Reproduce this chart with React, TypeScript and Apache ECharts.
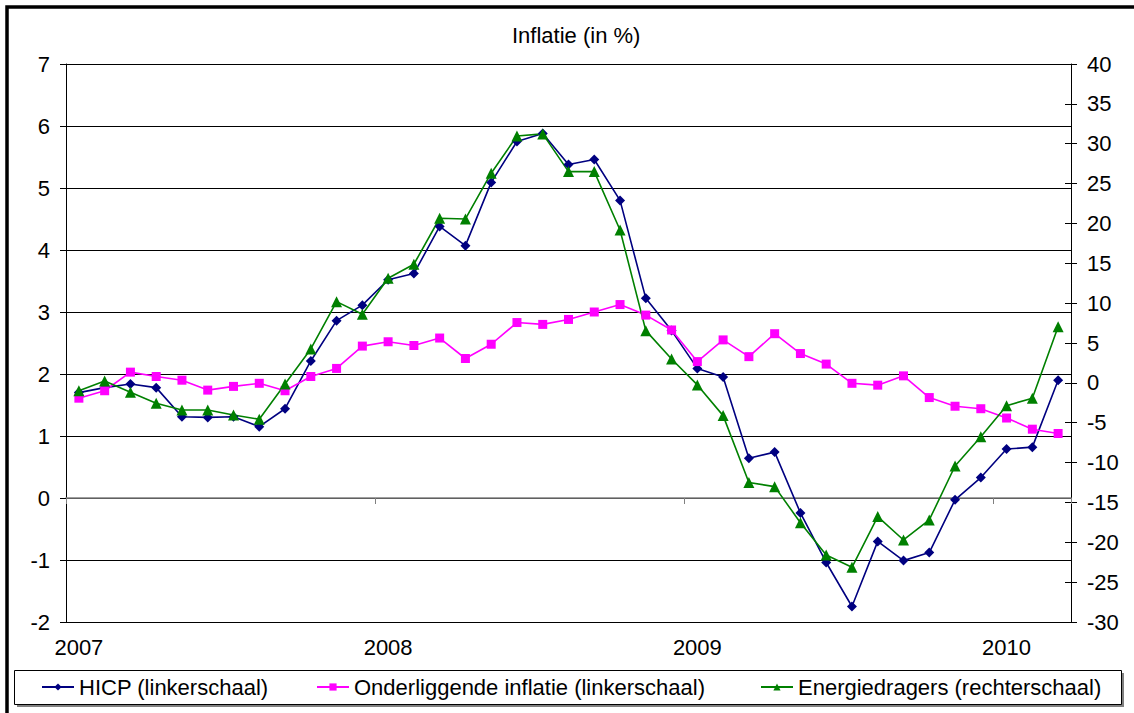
import React, { useEffect, useRef } from "react";
import * as echarts from "echarts";

const months = [
  "2007-01", "2007-02", "2007-03", "2007-04", "2007-05", "2007-06", "2007-07", "2007-08", "2007-09", "2007-10", "2007-11", "2007-12",
  "2008-01", "2008-02", "2008-03", "2008-04", "2008-05", "2008-06", "2008-07", "2008-08", "2008-09", "2008-10", "2008-11", "2008-12",
  "2009-01", "2009-02", "2009-03", "2009-04", "2009-05", "2009-06", "2009-07", "2009-08", "2009-09", "2009-10", "2009-11", "2009-12",
  "2010-01", "2010-02", "2010-03",
];

const hicp = [
  1.70, 1.78, 1.84, 1.78, 1.31, 1.30, 1.31, 1.15, 1.44, 2.21, 2.86, 3.11,
  3.52, 3.62, 4.38, 4.07, 5.09, 5.75, 5.88, 5.38, 5.46, 4.80, 3.22, 2.70,
  2.09, 1.95, 0.64, 0.74, -0.24, -1.04, -1.75, -0.70, -1.01, -0.88, -0.03, 0.33,
  0.79, 0.82, 1.90,
];

const core = [
  1.61, 1.73, 2.03, 1.96, 1.90, 1.74, 1.80, 1.85, 1.73, 1.96, 2.09, 2.45,
  2.52, 2.46, 2.58, 2.25, 2.48, 2.83, 2.80, 2.88, 3.00, 3.12, 2.95, 2.71,
  2.20, 2.55, 2.28, 2.65, 2.33, 2.16, 1.85, 1.82, 1.97, 1.62, 1.48, 1.44,
  1.29, 1.11, 1.04,
];

const energy = [
  -0.98, 0.24, -1.18, -2.56, -3.40, -3.40, -4.03, -4.57, -0.14, 4.25, 10.19, 8.6,
  13.12, 14.88, 20.65, 20.56, 26.3, 30.97, 31.23, 26.5, 26.5, 19.18, 6.55, 3.0,
  -0.26, -4.11, -12.5, -13.02, -17.54, -21.59, -23.14, -16.78, -19.71, -17.2, -10.43, -6.75,
  -2.86, -1.93, 7.05,
];

const seriesNames = [
  "HICP (linkerschaal)",
  "Onderliggende inflatie (linkerschaal)",
  "Energiedragers (rechterschaal)",
];

const title = "Inflatie (in %)";

const FONT = "'Liberation Sans', Arial, sans-serif";

export default function App() {
  const ref = useRef<HTMLDivElement>(null);

  useEffect(() => {
    if (!ref.current) return;
    const chart = echarts.init(ref.current, undefined, { renderer: "svg" });

    const legendBase = {
      top: 676,
      padding: 0,
      itemWidth: 32,
      itemHeight: 9,
      itemGap: 0,
      selectedMode: false,
      textStyle: { fontSize: 22, color: "#000", fontFamily: FONT },
    };

    chart.setOption({
      animation: false,
      backgroundColor: "#fff",
      textStyle: { fontFamily: FONT },
      title: {
        text: title,
        left: 507,
        top: 19,
        textStyle: { fontSize: 22, fontWeight: "normal", color: "#000", fontFamily: FONT },
      },
      graphic: [
        {
          type: "rect",
          z: 0,
          shape: { x: 7, y: 7, width: 1300, height: 900 },
          style: { fill: "none", stroke: "#000", lineWidth: 3.5 },
          silent: true,
        },
        {
          type: "rect",
          z: 1,
          shape: { x: 17, y: 673, width: 1107, height: 34 },
          style: { fill: "#808080", stroke: "none" },
          silent: true,
        },
        {
          type: "rect",
          z: 2,
          shape: { x: 14.5, y: 670.5, width: 1107, height: 34 },
          style: { fill: "#fff", stroke: "#000", lineWidth: 1 },
          silent: true,
        },
      ],
      legend: [
        { ...legendBase, left: 41, data: [seriesNames[0]] },
        { ...legendBase, left: 316, data: [seriesNames[1]] },
        { ...legendBase, left: 760, data: [seriesNames[2]] },
      ],
      grid: { left: 66, top: 64, width: 1005, height: 558, containLabel: false },
      xAxis: [
        {
          type: "category",
          data: months,
          boundaryGap: true,
          position: "bottom",
          axisLine: { show: true, onZero: true, onZeroAxisIndex: 0, lineStyle: { color: "#808080", width: 1.5 } },
          axisTick: { show: true, interval: 11, length: 6, inside: false, lineStyle: { color: "#808080", width: 1 } },
          axisLabel: { show: false },
          splitLine: { show: false },
        },
        {
          type: "category",
          data: months,
          boundaryGap: true,
          position: "bottom",
          axisLine: { show: false, onZero: false },
          axisTick: { show: false },
          axisLabel: {
            show: true,
            interval: 11,
            margin: 14,
            fontSize: 22,
            color: "#000",
            fontFamily: FONT,
            formatter: (v: string) => v.slice(0, 4),
          },
          splitLine: { show: false },
        },
      ],
      yAxis: [
        {
          type: "value",
          position: "left",
          min: -2,
          max: 7,
          interval: 1,
          axisLine: { show: true, lineStyle: { color: "#000", width: 1 } },
          axisTick: { show: true, inside: false, length: 6, lineStyle: { color: "#000" } },
          axisLabel: { fontSize: 22, color: "#000", margin: 16, fontFamily: FONT },
          splitLine: { show: true, lineStyle: { color: "#000", width: 1 } },
        },
        {
          type: "value",
          position: "right",
          min: -30,
          max: 40,
          interval: 5,
          axisLine: { show: true, lineStyle: { color: "#000", width: 1 } },
          axisTick: { show: true, inside: false, length: 6, lineStyle: { color: "#000" } },
          axisLabel: { fontSize: 22, color: "#000", margin: 16, fontFamily: FONT },
          splitLine: { show: false },
        },
        {
          type: "value",
          position: "right",
          min: -30,
          max: 40,
          interval: 5,
          axisLine: { show: false },
          axisTick: { show: true, inside: true, length: 6, lineStyle: { color: "#000" } },
          axisLabel: { show: false },
          splitLine: { show: false },
        },
      ],
      series: [
        {
          name: seriesNames[0],
          type: "line",
          xAxisIndex: 0,
          yAxisIndex: 0,
          data: hicp,
          symbol: "diamond",
          symbolSize: 10,
          color: "#000080",
          itemStyle: { color: "#000080" },
          lineStyle: { color: "#000080", width: 1.6 },
        },
        {
          name: seriesNames[1],
          type: "line",
          xAxisIndex: 0,
          yAxisIndex: 0,
          data: core,
          symbol: "rect",
          symbolSize: 9,
          color: "#ff00ff",
          itemStyle: { color: "#ff00ff" },
          lineStyle: { color: "#ff00ff", width: 1.6 },
        },
        {
          name: seriesNames[2],
          type: "line",
          xAxisIndex: 0,
          yAxisIndex: 1,
          data: energy,
          symbol: "triangle",
          symbolSize: 11,
          color: "#008000",
          itemStyle: { color: "#008000" },
          lineStyle: { color: "#008000", width: 1.6 },
        },
      ],
    });

    return () => chart.dispose();
  }, []);

  return (
    <div
      ref={ref}
      style={{ position: "absolute", left: 0, top: 0, width: 1134, height: 713, overflow: "hidden", background: "#fff" }}
    />
  );
}
